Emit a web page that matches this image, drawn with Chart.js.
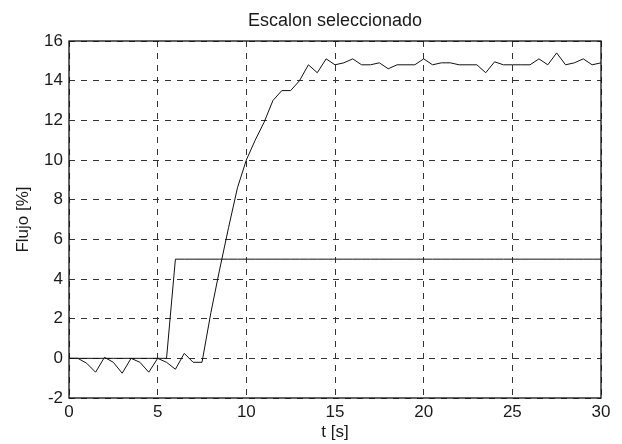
<!DOCTYPE html>
<html>
<head>
<meta charset="utf-8">
<script src="https://cdn.jsdelivr.net/npm/chart.js@4"></script>
<style>
  body { margin: 0; background: #fff; }
</style>
</head>
<body>
<canvas id="myChart" width="622" height="444"></canvas>
<script>
// sample times [s]
var tiempo = [0, 0.5, 1, 1.5, 2, 2.5, 3, 3.5, 4, 4.5, 5, 5.5, 6, 6.5, 7, 7.5, 8, 8.5, 9, 9.5,
  10, 10.5, 11, 11.5, 12, 12.5, 13, 13.5, 14, 14.5, 15, 15.5, 16, 16.5, 17, 17.5, 18, 18.5, 19, 19.5,
  20, 20.5, 21, 21.5, 22, 22.5, 23, 23.5, 24, 24.5, 25, 25.5, 26, 26.5, 27, 27.5, 28, 28.5, 29, 29.5, 30];

// measured flow
var flujo = [0, 0, -0.25, -0.7, 0.05, -0.2, -0.75, 0, -0.2, -0.7, 0, -0.2, -0.55, 0.25, -0.2, -0.2, 2.3, 4.5, 6.6, 8.6,
  10.0, 11.0, 11.9, 13.0, 13.5, 13.5, 14.0, 14.8, 14.4, 15.1, 14.8, 14.9, 15.1, 14.8, 14.8, 14.9, 14.6, 14.8, 14.8, 14.8,
  15.1, 14.8, 14.9, 14.9, 14.8, 14.8, 14.8, 14.4, 14.95, 14.8, 14.8, 14.8, 14.8, 15.1, 14.8, 15.4, 14.8, 14.9, 15.1, 14.8, 14.9];

// selected step input
var escalon = [0, 0, 0, 0, 0, 0, 0, 0, 0, 0, 0, 0, 5, 5, 5, 5, 5, 5, 5, 5,
  5, 5, 5, 5, 5, 5, 5, 5, 5, 5, 5, 5, 5, 5, 5, 5, 5, 5, 5, 5,
  5, 5, 5, 5, 5, 5, 5, 5, 5, 5, 5, 5, 5, 5, 5, 5, 5, 5, 5, 5, 5];

var xTicks = [0, 5, 10, 15, 20, 25, 30];
var yTicks = [-2, 0, 2, 4, 6, 8, 10, 12, 14, 16];
var titulo = 'Escalon seleccionado';

function pares(ys) {
  return tiempo.map(function (t, i) { return { x: t, y: ys[i] }; });
}

var txt = '#1a1a1a';
var familia = 'Liberation Sans, Arial, sans-serif';
var fuente = { family: familia, size: 17 };

// box round the plot area + title centred over it, like matlab
var marco = {
  id: 'marco',
  afterDraw: function (chart) {
    var a = chart.chartArea, c = chart.ctx;
    c.save();
    c.strokeStyle = '#111';
    c.lineWidth = 1.3;
    c.strokeRect(a.left, a.top, a.right - a.left, a.bottom - a.top);
    c.fillStyle = txt;
    c.font = '18px ' + familia;
    c.textAlign = 'center';
    c.textBaseline = 'middle';
    c.fillText(titulo, (a.left + a.right) / 2, 21);
    c.restore();
  }
};

var ctx = document.getElementById('myChart').getContext('2d');
var chart = new Chart(ctx, {
  type: 'line',
  data: {
    datasets: [{
      label: 'Flujo',
      data: pares(flujo),
      borderColor: '#111',
      borderWidth: 1,
      pointRadius: 0,
      tension: 0
    }, {
      label: 'Escalon',
      data: pares(escalon),
      borderColor: '#111',
      borderWidth: 1,
      pointRadius: 0,
      tension: 0
    }]
  },
  options: {
    responsive: false,
    animation: false,
    layout: { padding: { left: 0, right: 21, top: 41, bottom: 0 } },
    plugins: {
      legend: { display: false },
      tooltip: { enabled: false },
      title: { display: false }
    },
    scales: {
      x: {
        type: 'linear',
        min: 0,
        max: 30,
        afterBuildTicks: function (s) { s.ticks = xTicks.map(function (v) { return { value: v }; }); },
        afterFit: function (s) { s.height = 46; },
        ticks: { color: txt, font: fuente, padding: 4, maxRotation: 0 },
        grid: { color: '#333', drawTicks: false, lineWidth: 1 },
        border: { display: false, dash: [6, 6] },
        title: { display: true, text: 't [s]', color: txt, font: fuente, padding: { top: 0, bottom: 1 } }
      },
      y: {
        min: -2,
        max: 16,
        afterBuildTicks: function (s) { s.ticks = yTicks.map(function (v) { return { value: v }; }); },
        afterFit: function (s) { s.width = 69; },
        ticks: { color: txt, font: fuente, padding: 6 },
        grid: { color: '#333', drawTicks: false, lineWidth: 1 },
        border: { display: false, dash: [6, 6] },
        title: { display: true, text: 'Flujo [%]', color: txt, font: fuente, padding: { top: 13, bottom: 0 } }
      }
    }
  },
  plugins: [marco]
});
</script>
</body>
</html>
